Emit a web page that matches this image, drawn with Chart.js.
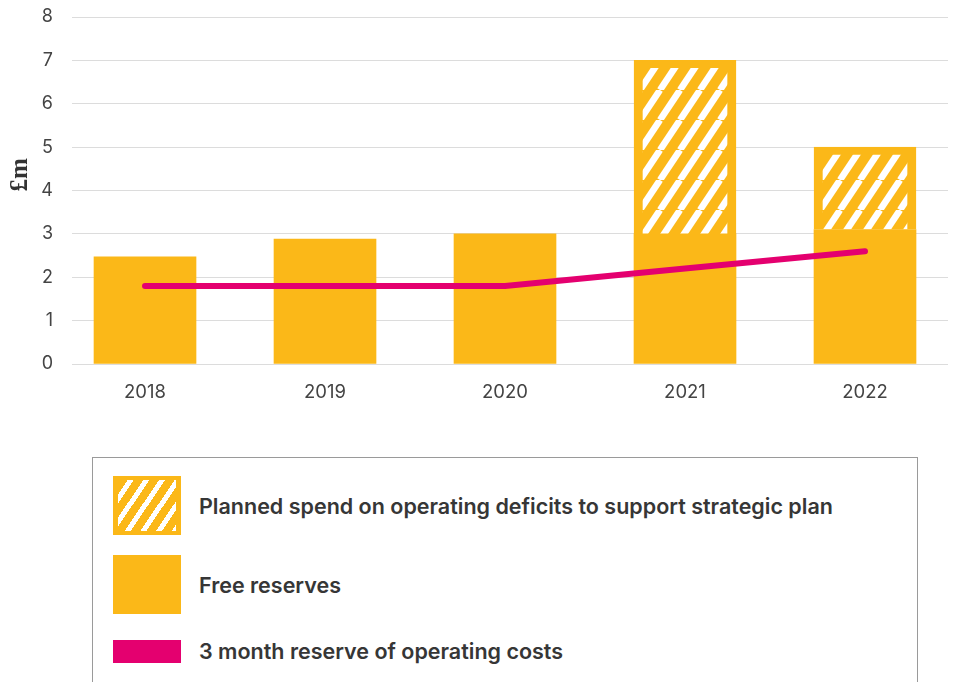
<!DOCTYPE html>
<html>
<head>
<meta charset="utf-8">
<script src="https://cdn.jsdelivr.net/npm/chart.js@4.4.0/dist/chart.umd.min.js"></script>
<style>
  body { margin: 0; background: #fff; width: 955px; height: 682px; overflow: hidden; position: relative; font-family: Inter, "Noto Sans", sans-serif; }
  #chartBox { position: absolute; left: 0; top: 0; width: 955px; height: 420px; }
  .legend-box { position: absolute; left: 92px; top: 457px; width: 824px; height: 260px; border: 1px solid #9a9a9a; }
  .legend-row { position: absolute; left: 20px; display: flex; align-items: center; }
  .swatch { width: 68px; box-sizing: border-box; }
  .legend-text { margin-left: 18px; font-size: 21.5px; font-weight: 600; color: #363636; white-space: nowrap; }
</style>
</head>
<body>
<div id="chartBox"><canvas id="reservesChart"></canvas></div>
<div class="legend-box" id="legend"></div>

<script>
// Data (£m)
const years = ['2018', '2019', '2020', '2021', '2022'];
const freeReserves = [2.47, 2.88, 3.0, 3.0, 3.1];
const plannedSpend = [null, null, null, 4.0, 1.9];
const reserveTarget = [1.8, 1.8, 1.8, 2.2, 2.6];
const yTicks = [0, 1, 2, 3, 4, 5, 6, 7, 8];

const legendLabels = [
    'Planned spend on operating deficits to support strategic plan',
    'Free reserves',
    '3 month reserve of operating costs'
];

const yellow = '#FBB818';
const pink = '#E4006F';

/*** Diagonal white stripes on yellow ***/
function makeHatch() {
    const c = document.createElement('canvas');
    c.width = 20;
    c.height = 30;
    const ctx = c.getContext('2d');
    ctx.fillStyle = yellow;
    ctx.fillRect(0, 0, 20, 30);
    ctx.strokeStyle = '#fff';
    ctx.lineWidth = 6.6;
    for (let k = -20; k <= 40; k += 20) {
        ctx.beginPath();
        ctx.moveTo(k, 0);
        ctx.lineTo(k - 20, 30);
        ctx.stroke();
    }
    return c.getContext('2d').createPattern(c, 'repeat');
}

const toPoints = arr => arr.map((v, i) => ({ x: i, y: v }));

const ctx = document.getElementById('reservesChart').getContext('2d');
const hatch = makeHatch();

const reservesChart = new Chart(ctx, {
    type: 'bar',
    data: {
        datasets: [{
            type: 'line',
            label: legendLabels[2],
            data: toPoints(reserveTarget),
            borderColor: pink,
            borderWidth: 6,
            borderCapStyle: 'round',
            borderJoinStyle: 'round',
            pointRadius: 0,
            tension: 0,
            stack: 'line',
            order: 0,
        }, {
            label: legendLabels[1],
            data: toPoints(freeReserves),
            backgroundColor: yellow,
            borderWidth: 0,
            barThickness: 102,
            grouped: false,
            stack: 'bars',
            order: 1,
        }, {
            label: legendLabels[0],
            data: toPoints(plannedSpend),
            backgroundColor: hatch,
            borderColor: yellow,
            borderWidth: { top: 8, left: 9, right: 9, bottom: 0 },
            borderSkipped: 'start',
            barThickness: 102,
            grouped: false,
            stack: 'bars',
            order: 1,
        }]
    },
    options: {
        responsive: true,
        maintainAspectRatio: false,
        animation: false,
        layout: { padding: { top: 17, right: 7, left: 0, bottom: 0 } },
        plugins: {
            legend: { display: false },
            tooltip: { enabled: false },
        },
        scales: {
            x: {
                type: 'linear',
                offset: false,
                min: -0.4056,
                max: 4.4611,
                grid: { display: false },
                border: { display: false },
                afterBuildTicks: scale => { scale.ticks = years.map((_, i) => ({ value: i })); },
                afterFit: scale => { scale.height = 56; },
                ticks: {
                    padding: 9,
                    color: '#444',
                    font: { size: 18.5, family: "Inter, 'Noto Sans', sans-serif" },
                    callback: v => years[v],
                },
            },
            y: {
                stacked: true,
                min: 0,
                max: 8,
                border: { display: false },
                afterFit: scale => { scale.width = 72; },
                afterBuildTicks: scale => { scale.ticks = yTicks.map(v => ({ value: v })); },
                grid: {
                    color: '#dcdcdc',
                    lineWidth: 1,
                    drawTicks: true,
                    tickLength: 19,
                    tickColor: 'rgba(0, 0, 0, 0)',
                },
                ticks: {
                    padding: 0,
                    color: '#444',
                    font: { size: 18, family: "Inter, 'Noto Sans', sans-serif" },
                },
                title: {
                    display: true,
                    text: '     £m',
                    color: '#333',
                    padding: { top: 6, bottom: 4 },
                    font: { size: 25, weight: 'bold', family: "'Liberation Serif', 'DejaVu Serif', serif" },
                },
            },
        }
    }
});

/*** HTML legend box ***/
const legendEl = document.getElementById('legend');
const legendRows = [
    { top: 18, height: 59, style: `background:repeating-linear-gradient(124deg, ${yellow} 0 8px, #fff 8px 13px); border:5px solid ${yellow}; border-top-width:4px; border-bottom-width:4px;` },
    { top: 97, height: 59, style: `background:${yellow};` },
    { top: 180, height: 23, style: `background:${pink};` },
];
legendRows.forEach((row, i) => {
    const div = document.createElement('div');
    div.className = 'legend-row';
    div.style.top = row.top + 'px';
    div.innerHTML = `<div class="swatch" style="height:${row.height}px;${row.style}"></div><span class="legend-text">${legendLabels[i]}</span>`;
    legendEl.appendChild(div);
});
</script>
</body>
</html>
